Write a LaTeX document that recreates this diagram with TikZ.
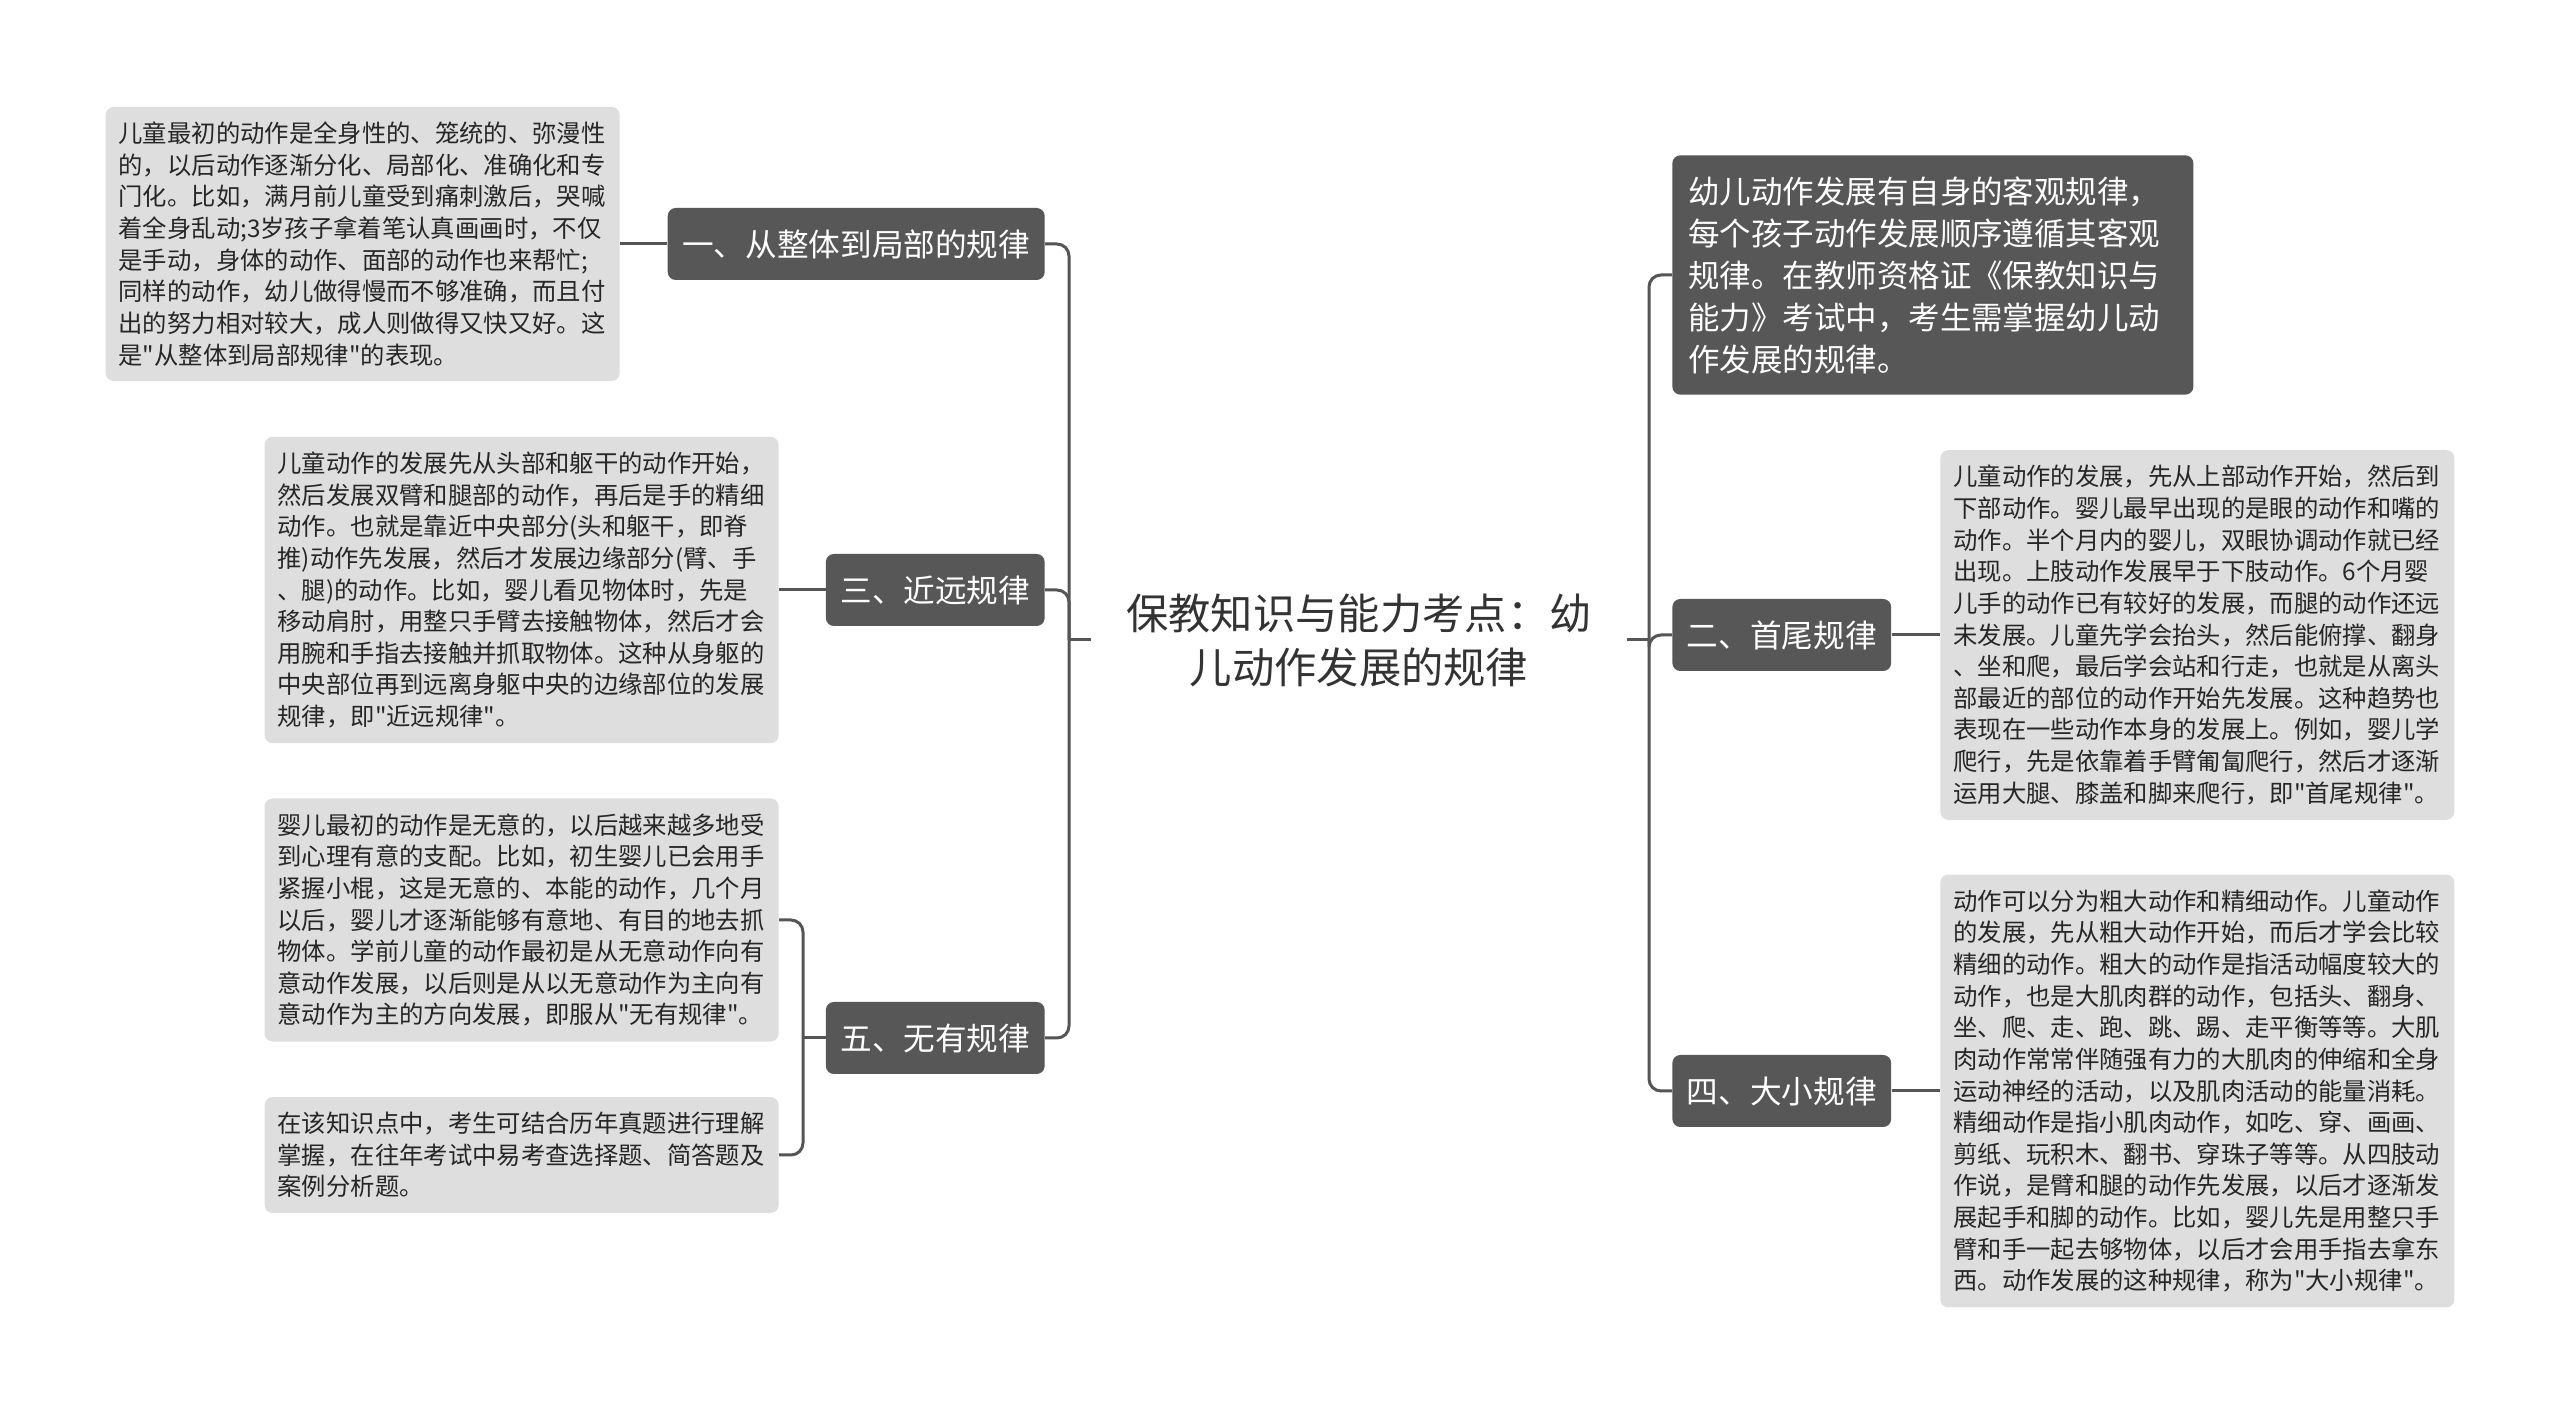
\documentclass[tikz,border=0pt]{standalone}
\usepackage{fontspec}
\setmainfont[Ligatures=TeXOff]{Noto Sans CJK SC}
\usepackage{xcolor}
\usepackage{tikz}
\usetikzlibrary{positioning, calc}
\definecolor{Ink}{HTML}{262626}
\definecolor{Title}{HTML}{333333}
\definecolor{Dark}{HTML}{575757}
\definecolor{Leaf}{HTML}{DEDEDE}
\definecolor{Wire}{HTML}{555555}

\begin{document}
\begin{tikzpicture}[
  topic/.style={rounded corners=0.16cm, fill=Dark, text=white, font=\fontsize{18pt}{22pt}\selectfont, minimum height=1.44cm, inner xsep=0.29cm},
  intro/.style={rounded corners=0.16cm, fill=Dark, text=white, font=\fontsize{17.9pt}{23.9pt}\selectfont, align=left, text width=9.78cm, inner xsep=0.32cm, inner ysep=0.42cm},
  leaf/.style={rounded corners=0.16cm, fill=Leaf, text=Ink, font=\fontsize{13.85pt}{18pt}\selectfont, align=left, text width=9.76cm, inner xsep=0.26cm, inner ysep=0.3cm},
  link/.style={draw=Wire, line width=0.06cm, rounded corners=0.24cm}
]
\useasboundingbox[fill=white] (0,0) rectangle (51.2,28.28);

\node[font=\fontsize{24.07pt}{30.7pt}\selectfont, text=Title, align=center, text width=9.35cm, inner xsep=0.68cm] (title) at (27.18,15.48) {保教知识与能力考点：幼\\儿动作发展的规律};
\coordinate (ljoin) at (21.38,15.48);
\coordinate (rjoin) at (32.98,15.48);

% left side
\node[topic, anchor=east] (b1) at (20.9,23.4) {一、从整体到局部的规律};
\node[topic, anchor=east] (b3) at (20.9,16.48) {三、近远规律};
\node[topic, anchor=east] (b5) at (20.9,7.52) {五、无有规律};

\node[leaf, anchor=east] (ll1) at (12.4,23.4) {儿童最初的动作是全身性的、笼统的、弥漫性\\的，以后动作逐渐分化、局部化、准确化和专\\门化。比如，满月前儿童受到痛刺激后，哭喊\\着全身乱动;3岁孩子拿着笔认真画画时，不仅\\是手动，身体的动作、面部的动作也来帮忙;\\同样的动作，幼儿做得慢而不够准确，而且付\\出的努力相对较大，成人则做得又快又好。这\\是"从整体到局部规律"的表现。};
\node[leaf, anchor=east] (ll3) at (15.58,16.48) {儿童动作的发展先从头部和躯干的动作开始，\\然后发展双臂和腿部的动作，再后是手的精细\\动作。也就是靠近中央部分(头和躯干，即脊\\推)动作先发展，然后才发展边缘部分(臂、手\\、腿)的动作。比如，婴儿看见物体时，先是\\移动肩肘，用整只手臂去接触物体，然后才会\\用腕和手指去接触并抓取物体。这种从身躯的\\中央部位再到远离身躯中央的边缘部位的发展\\规律，即"近远规律"。};
\node[leaf, anchor=east] (ll5a) at (15.58,9.88) {婴儿最初的动作是无意的，以后越来越多地受\\到心理有意的支配。比如，初生婴儿已会用手\\紧握小棍，这是无意的、本能的动作，几个月\\以后，婴儿才逐渐能够有意地、有目的地去抓\\物体。学前儿童的动作最初是从无意动作向有\\意动作发展，以后则是从以无意动作为主向有\\意动作为主的方向发展，即服从"无有规律"。};
\node[leaf, anchor=east] (ll5b) at (15.58,5.18) {在该知识点中，考生可结合历年真题进行理解\\掌握，在往年考试中易考查选择题、简答题及\\案例分析题。};
\coordinate (b5join) at (16.06,7.52);

% right side
\node[intro, anchor=west] (r0) at (33.44,22.78) {幼儿动作发展有自身的客观规律，\\每个孩子动作发展顺序遵循其客观\\规律。在教师资格证《保教知识与\\能力》考试中，考生需掌握幼儿动\\作发展的规律。};
\node[topic, anchor=west] (r2) at (33.44,15.58) {二、首尾规律};
\node[topic, anchor=west] (r4) at (33.44,6.46) {四、大小规律};

\node[leaf, anchor=west] (rl2) at (38.8,15.58) {儿童动作的发展，先从上部动作开始，然后到\\下部动作。婴儿最早出现的是眼的动作和嘴的\\动作。半个月内的婴儿，双眼协调动作就已经\\出现。上肢动作发展早于下肢动作。6个月婴\\儿手的动作已有较好的发展，而腿的动作还远\\未发展。儿童先学会抬头，然后能俯撑、翻身\\、坐和爬，最后学会站和行走，也就是从离头\\部最近的部位的动作开始先发展。这种趋势也\\表现在一些动作本身的发展上。例如，婴儿学\\爬行，先是依靠着手臂匍匐爬行，然后才逐渐\\运用大腿、膝盖和脚来爬行，即"首尾规律"。};
\node[leaf, anchor=west] (rl4) at (38.8,6.46) {动作可以分为粗大动作和精细动作。儿童动作\\的发展，先从粗大动作开始，而后才学会比较\\精细的动作。粗大的动作是指活动幅度较大的\\动作，也是大肌肉群的动作，包括头、翻身、\\坐、爬、走、跑、跳、踢、走平衡等等。大肌\\肉动作常常伴随强有力的大肌肉的伸缩和全身\\运动神经的活动，以及肌肉活动的能量消耗。\\精细动作是指小肌肉动作，如吃、穿、画画、\\剪纸、玩积木、翻书、穿珠子等等。从四肢动\\作说，是臂和腿的动作先发展，以后才逐渐发\\展起手和脚的动作。比如，婴儿先是用整只手\\臂和手一起去够物体，以后才会用手指去拿东\\西。动作发展的这种规律，称为"大小规律"。};

% connectors
\draw[link] (title.west) -- (ljoin);
\draw[link] (ljoin) |- (b1.east);
\draw[link] (ljoin) |- (b3.east);
\draw[link] (ljoin) |- (b5.east);
\draw[link] (b1.west) -- (ll1.east);
\draw[link] (b3.west) -- (ll3.east);
\draw[link] (b5.west) -- (b5join);
\draw[link] (b5join) |- (ll5a.east);
\draw[link] (b5join) |- (ll5b.east);

\draw[link] (title.east) -- (rjoin);
\draw[link] (rjoin) |- (r0.west);
\draw[link] (rjoin) |- (r2.west);
\draw[link] (rjoin) |- (r4.west);
\draw[link] (r2.east) -- (rl2.west);
\draw[link] (r4.east) -- (rl4.west);
\end{tikzpicture}
\end{document}
